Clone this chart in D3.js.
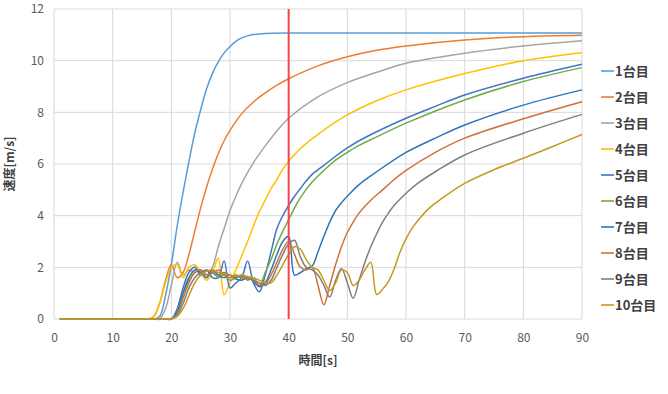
<!DOCTYPE html>
<html><head><meta charset="utf-8">
<script src="https://cdn.jsdelivr.net/npm/d3@7"></script>
<style>
body{margin:0;background:#fff;}
text{font-family:"Noto Sans CJK JP","Noto Sans",sans-serif;}
</style></head>
<body><svg id="chart" width="668" height="394"></svg>
<script>
const seriesNames = ["1台目","2台目","3台目","4台目","5台目","6台目","7台目","8台目","9台目","10台目"];
const seriesColors = ["#5B9BD5","#ED7D31","#A5A5A5","#FFC000","#4472C4","#70AD47","#2E75B6","#D0703A","#7F7F7F","#C49A1C"];
const xTicks = [0,10,20,30,40,50,60,70,80,90];
const yTicks = [0,2,4,6,8,10,12];
const markerTime = 40;

const speed1 = [[1,0],[5,0],[9,0],[12,0],[14,0],[15,0],[16,0],[17,0],[18,0.1],[19,0.9],[20,2.1],[21,3.6],[22,4.9],[23,6.1],[24,7.2],[25,8.1],[26,8.9],[27,9.5],[28,9.95],[29,10.3],[30,10.55],[31,10.75],[32,10.88],[33,10.96],[34,11.01],[36,11.05],[40,11.07],[50,11.07],[70,11.07],[90,11.07]];
const speed2 = [[1,0],[5,0],[9,0],[12,0],[13,0],[14,0],[15,0],[16,0],[17,0.1],[18,0.6],[19,1.5],[20,2.1],[21,1.6],[22,1.8],[23,2.5],[24,3.4],[25,4.3],[26,5.1],[27,5.8],[28,6.4],[29,6.9],[30,7.3],[32,7.95],[34,8.4],[36,8.75],[38,9.05],[40,9.3],[45,9.8],[50,10.15],[55,10.4],[60,10.57],[70,10.8],[80,10.93],[90,10.98]];
const speed3 = [[1,0],[5,0],[9,0],[12,0],[14,0],[16,0],[17,0],[18,0],[19,0.4],[20,1.3],[21,2.2],[22,1.7],[23,1.9],[24,1.8],[25,1.9],[26,1.7],[27,2.0],[28,2.8],[29,3.5],[30,4.2],[31,4.75],[32,5.25],[34,6.05],[36,6.7],[38,7.28],[40,7.77],[45,8.6],[50,9.15],[55,9.55],[60,9.9],[70,10.29],[80,10.57],[90,10.77]];
const speed4 = [[1,0],[5,0],[9,0],[12,0],[13,0],[14,0],[15,0],[16,0],[17,0.1],[18,0.6],[19,1.4],[20,2.0],[21,2.1],[22,1.6],[23,2.0],[24,2.1],[25,1.8],[26,1.5],[27,1.8],[28,2.35],[29,0.95],[30,1.4],[31,1.9],[32,2.45],[33,3.0],[34,3.6],[35,4.15],[36,4.6],[37,5.05],[38,5.4],[39,5.8],[40,6.1],[42,6.6],[45,7.15],[50,7.9],[55,8.45],[60,8.87],[70,9.5],[80,10.0],[90,10.31]];
const speed5 = [[1,0],[5,0],[9,0],[12,0],[15,0],[17,0],[18,0],[19,0],[20,0],[21,0.4],[22,1.2],[23,1.8],[24,2.0],[25,1.7],[26,1.9],[27,1.6],[28,1.6],[29,2.25],[30,1.2],[31,1.4],[32,1.6],[33,2.25],[34,1.4],[35,1.05],[36,1.7],[37,2.6],[38,3.5],[39,4.0],[40,4.4],[41,4.75],[42,5.05],[43,5.35],[44,5.6],[46,5.95],[48,6.3],[50,6.62],[52,6.9],[55,7.25],[60,7.77],[65,8.23],[70,8.67],[80,9.32],[90,9.86]];
const speed6 = [[1,0],[5,0],[9,0],[12,0],[15,0],[17,0],[18,0],[19,0],[20,0],[21,0.3],[22,1.0],[23,1.5],[24,1.8],[25,1.9],[26,1.7],[27,1.8],[28,1.6],[29,1.7],[30,1.5],[31,1.6],[32,1.7],[33,1.5],[34,1.6],[35,1.3],[36,1.8],[37,2.3],[38,2.9],[39,3.4],[40,3.85],[41,4.3],[42,4.7],[44,5.3],[46,5.75],[48,6.15],[50,6.45],[52,6.72],[55,7.05],[60,7.58],[70,8.48],[80,9.19],[90,9.73]];
const speed7 = [[1,0],[5,0],[9,0],[12,0],[15,0],[17,0],[18,0],[19,0],[20,0],[21,0.3],[22,1.0],[23,1.6],[24,1.9],[25,1.8],[26,1.6],[27,1.9],[28,1.7],[29,1.6],[30,1.7],[31,1.55],[32,1.5],[33,1.6],[34,1.45],[35,1.25],[36,1.4],[37,1.9],[38,2.5],[39,3.0],[40,3.2],[41,1.7],[42,1.8],[43,1.95],[44,2.05],[45,2.6],[46,3.2],[47,3.75],[48,4.2],[49,4.5],[50,4.75],[52,5.2],[55,5.7],[60,6.45],[65,7.0],[70,7.51],[80,8.28],[90,8.87]];
const speed8 = [[1,0],[5,0],[9,0],[12,0],[15,0],[17,0],[18,0],[19,0],[20,0],[21,0.2],[22,0.8],[23,1.4],[24,1.8],[25,1.9],[26,1.7],[27,1.8],[28,1.9],[29,1.7],[30,1.6],[31,1.7],[32,1.6],[33,1.55],[34,1.5],[35,1.3],[36,1.35],[37,1.7],[38,2.2],[39,2.7],[40,3.0],[41,2.5],[42,2.0],[43,1.9],[44,2.0],[45,1.3],[46,0.55],[47,1.3],[48,2.1],[49,2.8],[50,3.35],[51,3.75],[52,4.1],[54,4.6],[56,5.0],[58,5.4],[60,5.75],[65,6.45],[70,7.0],[80,7.75],[90,8.41]];
const speed9 = [[1,0],[5,0],[9,0],[12,0],[15,0],[17,0],[18,0],[19,0],[20,0],[21,0.15],[22,0.6],[23,1.2],[24,1.6],[25,1.8],[26,1.9],[27,1.8],[28,1.7],[29,1.8],[30,1.7],[31,1.6],[32,1.65],[33,1.6],[34,1.5],[35,1.4],[36,1.3],[37,1.5],[38,2.0],[39,2.5],[40,2.9],[41,3.05],[42,2.4],[43,2.0],[44,1.9],[45,1.7],[46,1.3],[47,0.85],[48,1.5],[49,1.95],[50,1.4],[51,0.8],[52,1.5],[53,2.2],[54,2.8],[55,3.3],[56,3.75],[57,4.1],[58,4.4],[60,4.87],[62,5.25],[65,5.7],[70,6.35],[80,7.19],[90,7.92]];
const speed10 = [[1,0],[5,0],[9,0],[12,0],[15,0],[17,0],[18,0],[19,0],[20,0],[21,0.1],[22,0.4],[23,0.9],[24,1.4],[25,1.7],[26,1.85],[27,1.9],[28,1.8],[29,1.75],[30,1.7],[31,1.65],[32,1.7],[33,1.65],[34,1.6],[35,1.5],[36,1.4],[37,1.4],[38,1.7],[39,2.1],[40,2.5],[41,2.8],[42,2.7],[43,2.3],[44,2.0],[45,1.9],[46,1.5],[47,1.1],[48,1.4],[49,1.9],[50,1.8],[51,1.3],[52,1.5],[53,1.9],[54,2.2],[55,0.95],[56,1.15],[57,1.45],[58,1.95],[59,2.6],[60,3.1],[61,3.5],[62,3.8],[64,4.3],[66,4.65],[70,5.25],[75,5.78],[80,6.22],[85,6.68],[90,7.14]];

const allSeries = [speed1,speed2,speed3,speed4,speed5,speed6,speed7,speed8,speed9,speed10];

const svg = d3.select("#chart");
const m = {left:54, right:582, top:9, bottom:319};
const x = d3.scaleLinear().domain([0,90]).range([m.left,m.right]);
const y = d3.scaleLinear().domain([0,12]).range([m.bottom,m.top]);

// grid
svg.append("g").selectAll("line").data(yTicks).join("line")
  .attr("x1",m.left).attr("x2",m.right)
  .attr("y1",d=>y(d)).attr("y2",d=>y(d))
  .attr("stroke","#d9d9d9").attr("stroke-width",1);
svg.append("g").selectAll("line").data(xTicks).join("line")
  .attr("y1",m.top).attr("y2",m.bottom)
  .attr("x1",d=>x(d)).attr("x2",d=>x(d))
  .attr("stroke","#d9d9d9").attr("stroke-width",1);

// axes labels
const xAxis = d3.axisBottom(x).tickValues(xTicks).tickSize(0).tickPadding(14);
const gx = svg.append("g").attr("transform",`translate(0,${m.bottom})`).call(xAxis);
gx.select(".domain").remove();
gx.selectAll("text").attr("fill","#595959").style("font-size","12px");
const yAxis = d3.axisLeft(y).tickValues(yTicks).tickSize(0).tickPadding(10);
const gy = svg.append("g").attr("transform",`translate(${m.left},0)`).call(yAxis);
gy.select(".domain").remove();
gy.selectAll("text").attr("fill","#595959").style("font-size","12px");

svg.append("text").attr("x",(m.left+m.right)/2).attr("y",365)
  .attr("text-anchor","middle").attr("fill","#404040")
  .style("font-size","12px").style("font-weight","bold").text("時間[s]");
svg.append("text").attr("transform",`translate(14,${(m.top+m.bottom)/2}) rotate(-90)`)
  .attr("text-anchor","middle").attr("fill","#404040")
  .style("font-size","12px").style("font-weight","bold").text("速度[m/s]");

// lines
const line = d3.line().x(d=>x(d[0])).y(d=>y(d[1])).curve(d3.curveCatmullRom.alpha(0.5));
svg.append("g").selectAll("path").data(allSeries).join("path")
  .attr("d",line).attr("fill","none")
  .attr("stroke",(d,i)=>seriesColors[i]).attr("stroke-width",1.5)
  .attr("stroke-linejoin","round");

// red marker
svg.append("line").attr("x1",x(markerTime)).attr("x2",x(markerTime))
  .attr("y1",m.top).attr("y2",m.bottom)
  .attr("stroke","#F0474A").attr("stroke-width",2);

// legend
const lg = svg.append("g").selectAll("g").data(seriesNames).join("g")
  .attr("transform",(d,i)=>`translate(601,${71+i*26})`);
lg.append("line").attr("x1",0).attr("x2",13).attr("y1",0).attr("y2",0)
  .attr("stroke",(d,i)=>seriesColors[i]).attr("stroke-width",1.6);
lg.append("text").attr("x",14).attr("y",0).attr("dy","0.35em")
  .attr("fill","#404040").style("font-size","13px").style("font-weight","bold")
  .text(d=>d);
</script></body></html>
